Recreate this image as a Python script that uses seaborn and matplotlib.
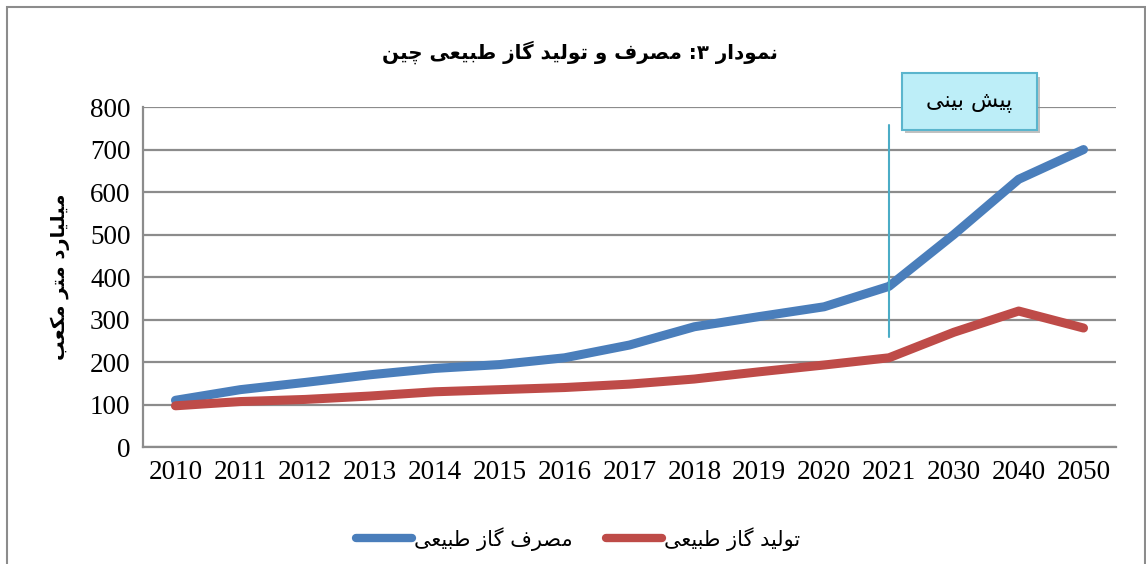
import matplotlib
matplotlib.use("Agg")
import matplotlib.pyplot as plt
import matplotlib.patheffects as pe
from matplotlib.patches import Rectangle
import seaborn as sns
import pandas as pd

# ---------------- data ----------------
years = ["2010", "2011", "2012", "2013", "2014", "2015", "2016", "2017",
         "2018", "2019", "2020", "2021", "2030", "2040", "2050"]
consumption = [110, 135, 152, 170, 185, 194, 210, 240, 283, 307, 330, 378, 500, 630, 700]
production = [97, 107, 112, 120, 130, 135, 140, 148, 160, 177, 193, 210, 270, 320, 280]
yticks = [0, 100, 200, 300, 400, 500, 600, 700, 800]

title_text = "نمودار ۳: مصرف و تولید گاز طبیعی چین"
ylabel_text = "میلیارد متر مکعب"
label_cons = "مصرف گاز طبیعی"
label_prod = "تولید گاز طبیعی"
forecast_text = "پیش بینی"
forecast_year = "2021"
forecast_range = [259, 758]

# ---------------- minimal Persian shaping ----------------
DUAL = {
    "ب": ("\uFE8F", "\uFE90", "\uFE91", "\uFE92"),
    "پ": ("\uFB56", "\uFB57", "\uFB58", "\uFB59"),
    "ت": ("\uFE95", "\uFE96", "\uFE97", "\uFE98"),
    "چ": ("\uFB7A", "\uFB7B", "\uFB7C", "\uFB7D"),
    "ش": ("\uFEB5", "\uFEB6", "\uFEB7", "\uFEB8"),
    "ص": ("\uFEB9", "\uFEBA", "\uFEBB", "\uFEBC"),
    "ط": ("\uFEC1", "\uFEC2", "\uFEC3", "\uFEC4"),
    "ع": ("\uFEC9", "\uFECA", "\uFECB", "\uFECC"),
    "ف": ("\uFED1", "\uFED2", "\uFED3", "\uFED4"),
    "ک": ("\uFB8E", "\uFB8F", "\uFB90", "\uFB91"),
    "گ": ("\uFB92", "\uFB93", "\uFB94", "\uFB95"),
    "ل": ("\uFEDD", "\uFEDE", "\uFEDF", "\uFEE0"),
    "م": ("\uFEE1", "\uFEE2", "\uFEE3", "\uFEE4"),
    "ن": ("\uFEE5", "\uFEE6", "\uFEE7", "\uFEE8"),
    "ی": ("\uFBFC", "\uFBFD", "\uFBFE", "\uFBFF"),
}
RIGHT = {
    "ا": ("\uFE8D", "\uFE8E"),
    "د": ("\uFEA9", "\uFEAA"),
    "ر": ("\uFEAD", "\uFEAE"),
    "ز": ("\uFEAF", "\uFEB0"),
    "و": ("\uFEED", "\uFEEE"),
}


def fa(s):
    out = []
    n = len(s)
    for i, c in enumerate(s):
        prev = s[i - 1] if i > 0 else ""
        nxt = s[i + 1] if i < n - 1 else ""
        jp = prev in DUAL
        if c in DUAL:
            jn = (nxt in DUAL) or (nxt in RIGHT)
            f = DUAL[c]
            if jp and jn:
                out.append(f[3])
            elif jp:
                out.append(f[1])
            elif jn:
                out.append(f[2])
            else:
                out.append(f[0])
        elif c in RIGHT:
            f = RIGHT[c]
            out.append(f[1] if jp else f[0])
        else:
            out.append(c)
    return "".join(reversed(out))


# ---------------- plot ----------------
sns.set_theme(style="white")
plt.rcParams["font.family"] = ["DejaVu Sans"]
plt.rcParams["text.color"] = "black"
plt.rcParams["xtick.color"] = "black"
plt.rcParams["ytick.color"] = "black"
plt.rcParams["axes.labelcolor"] = "black"

df = pd.DataFrame({
    "year": years * 2,
    "value": consumption + production,
    "series": [fa(label_cons)] * len(years) + [fa(label_prod)] * len(years),
})

fig = plt.figure(figsize=(11.46, 5.64), dpi=100)
ax = fig.add_axes([0.1248, 0.2074, 0.849, 0.6028])

sns.lineplot(data=df, x="year", y="value", hue="series", sort=False,
             palette=["#4A7EBB", "#BE4B48"], linewidth=6.5, ax=ax,
             solid_capstyle="round", solid_joinstyle="round")

ax.set_xlim(-0.5, len(years) - 0.5)
ax.set_ylim(0, 800)
ax.set_yticks(yticks)
ax.yaxis.grid(True, color="#8C8C8C", linewidth=1.6)
ax.xaxis.grid(False)
ax.set_axisbelow(True)
for side in ["top", "right"]:
    ax.spines[side].set_visible(False)
for side in ["left", "bottom"]:
    ax.spines[side].set_color("#8C8C8C")
    ax.spines[side].set_linewidth(1.6)
ax.tick_params(axis="both", length=0, labelsize=19.5, pad=9, colors="black")
for lab in ax.get_xticklabels() + ax.get_yticklabels():
    lab.set_fontfamily("Liberation Serif")
ax.set_xlabel("")
ax.set_ylabel(fa(ylabel_text), fontsize=14, fontweight="bold", labelpad=14)

# forecast marker
fi = years.index(forecast_year)
ax.plot([fi, fi], forecast_range, color="#4BACC6", linewidth=1.5)

# legend
leg = ax.legend(loc="upper center", bbox_to_anchor=(0.447, -0.18), ncol=2,
                frameon=False, fontsize=15, handlelength=2.7,
                columnspacing=1.6, handletextpad=0.1)
for line in leg.get_lines():
    line.set_linewidth(6)
    line.set_solid_capstyle("round")

# title
fig.text(0.506, 0.908, fa(title_text), ha="center", va="center",
         fontsize=14.3, fontweight="bold")

# forecast box
box = Rectangle((0.787, 0.7695), 0.1178, 0.101, transform=fig.transFigure,
                facecolor="#BDEEF8", edgecolor="#5BB5CD", linewidth=1.5,
                zorder=5)
box.set_path_effects([
    pe.SimplePatchShadow(offset=(2.5, -2.5), shadow_rgbFace="#999999", alpha=0.6),
    pe.Normal()])
fig.patches.append(box)
fig.text(0.846, 0.82, fa(forecast_text), ha="center", va="center",
         fontsize=16, zorder=6)

# outer frame
fig.patches.append(Rectangle((0.0065, -0.02), 0.9925, 1.007,
                             transform=fig.transFigure, fill=False,
                             edgecolor="#8C8C8C", linewidth=1.5))

fig.savefig("out.png", dpi=100, facecolor="white")
